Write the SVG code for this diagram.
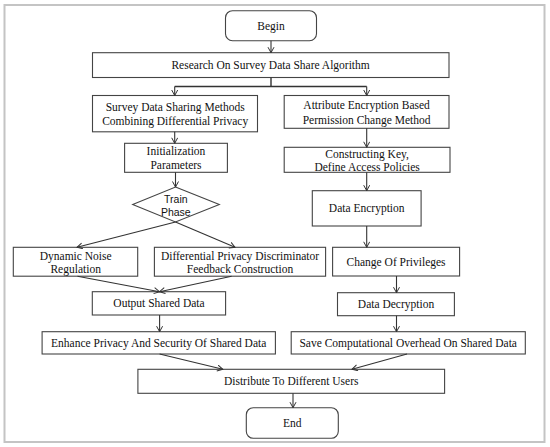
<svg xmlns="http://www.w3.org/2000/svg" width="550" height="447" viewBox="0 0 550 447">
<defs>
<marker id="arr" markerWidth="8" markerHeight="8" refX="6" refY="3.5" orient="auto" markerUnits="userSpaceOnUse">
<path d="M0.5,0.5 L6,3.5 L0.5,6.5" fill="none" stroke="#333" stroke-width="1"/>
</marker>
<style>
.box{fill:#fff;stroke:#444;stroke-width:1.1}
.t{font-family:"Liberation Serif","Times New Roman",serif;font-size:11.5px;fill:#111;text-anchor:middle}
.s{font-family:"Liberation Sans",Arial,sans-serif;font-size:10.5px;fill:#111;text-anchor:middle}
.c{fill:none;stroke:#333;stroke-width:1.4}
.a{fill:none;stroke:#333;stroke-width:1.1;marker-end:url(#arr)}
</style>
</defs>
<rect x="0" y="0" width="550" height="447" fill="#fff"/>
<rect x="4.5" y="5" width="540" height="437" fill="#fff" stroke="#c4c4c4" stroke-width="2"/>

<g id="begin"><rect class="box" x="225.5" y="10.7" width="91" height="30" rx="7"/><text class="t" x="271" y="29.5">Begin</text></g>
<g id="research"><rect class="box" x="92.5" y="52.7" width="356.5" height="24.8"/><text class="t" x="270.6" y="69">Research On Survey Data Share Algorithm</text></g>
<g id="survey"><rect class="box" x="92.5" y="95.5" width="165" height="36.3"/><text class="t" x="175.2" y="110.5">Survey Data Sharing Methods</text><text class="t" x="175.2" y="125">Combining Differential Privacy</text></g>
<g id="attribute"><rect class="box" x="284.2" y="95.5" width="164.8" height="32.8"/><text class="t" x="366.6" y="109">Attribute Encryption Based</text><text class="t" x="366.6" y="123.5">Permission Change Method</text></g>
<g id="init"><rect class="box" x="124.6" y="143.3" width="102.8" height="29"/><text class="t" x="176" y="155">Initialization</text><text class="t" x="176" y="169">Parameters</text></g>
<g id="construct"><rect class="box" x="284.2" y="147.3" width="165.8" height="25"/><text class="t" x="367.1" y="157.8">Constructing Key,</text><text class="t" x="367.1" y="170.8">Define Access Policies</text></g>
<g id="train"><polygon class="box" points="175.5,187 219.3,204.5 175.5,222 132.7,204.5"/><text class="s" x="175.8" y="202.5">Train</text><text class="s" x="175.8" y="216.3">Phase</text></g>
<g id="encrypt"><rect class="box" x="312.3" y="190.7" width="108.8" height="35.3"/><text class="t" x="366.7" y="212">Data Encryption</text></g>
<g id="noise"><rect class="box" x="13.3" y="247.3" width="124.4" height="28.9"/><text class="t" x="75.7" y="259.5">Dynamic Noise</text><text class="t" x="75.7" y="273">Regulation</text></g>
<g id="discrim"><rect class="box" x="154.4" y="247.3" width="171.2" height="28.9"/><text class="t" x="240" y="259.5">Differential Privacy Discriminator</text><text class="t" x="240" y="273">Feedback Construction</text></g>
<g id="privileges"><rect class="box" x="332.6" y="247.3" width="127" height="28.7"/><text class="t" x="396.1" y="265.5">Change Of Privileges</text></g>
<g id="output"><rect class="box" x="92.3" y="291.7" width="133.3" height="23.3"/><text class="t" x="159" y="307.3">Output Shared Data</text></g>
<g id="decrypt"><rect class="box" x="337.5" y="292.7" width="116.9" height="23"/><text class="t" x="396" y="308.3">Data Decryption</text></g>
<g id="enhance"><rect class="box" x="42.1" y="331.7" width="233.3" height="22.3"/><text class="t" x="158.7" y="346.8">Enhance Privacy And Security Of Shared Data</text></g>
<g id="save"><rect class="box" x="291.2" y="331.7" width="234.1" height="22.3"/><text class="t" x="408.2" y="346.8">Save Computational Overhead On Shared Data</text></g>
<g id="distribute"><rect class="box" x="137.9" y="369.3" width="306.7" height="24"/><text class="t" x="291.2" y="385.3">Distribute To Different Users</text></g>
<g id="end"><rect class="box" x="246.3" y="407.7" width="92" height="30.6" rx="7"/><text class="t" x="292.3" y="427">End</text></g>

<g id="connectors">
<line class="a" x1="271" y1="40.7" x2="271" y2="52.7"/>
<polyline class="c" points="271,77.5 271,86.5"/>
<line class="c" x1="174.7" y1="86.5" x2="366.7" y2="86.5"/>
<line class="a" x1="174.7" y1="86.5" x2="174.7" y2="95.5"/>
<line class="a" x1="366.7" y1="86.5" x2="366.7" y2="95.5"/>
<line class="a" x1="174.7" y1="131.8" x2="174.7" y2="143.3"/>
<line class="a" x1="366.7" y1="128.3" x2="366.7" y2="147.3"/>
<line class="a" x1="175.5" y1="172.3" x2="175.5" y2="187"/>
<line class="a" x1="366.7" y1="172.3" x2="366.7" y2="190.7"/>
<line class="a" x1="175.5" y1="222" x2="77" y2="247.3"/>
<line class="a" x1="175.5" y1="222" x2="235" y2="247.3"/>
<line class="a" x1="366.7" y1="226" x2="366.7" y2="247.3"/>
<line class="a" x1="77.5" y1="276.2" x2="159.5" y2="291.7"/>
<line class="a" x1="231.6" y1="276.2" x2="159.5" y2="291.7"/>
<line class="a" x1="396.5" y1="276" x2="396.5" y2="292.7"/>
<line class="a" x1="159.6" y1="315" x2="159.6" y2="331.7"/>
<line class="a" x1="396.5" y1="315.7" x2="396.5" y2="331.7"/>
<line class="a" x1="159.6" y1="354" x2="222.8" y2="369.3"/>
<line class="a" x1="407" y1="354" x2="352" y2="369.3"/>
<line class="a" x1="293" y1="393.3" x2="293" y2="407.7"/>
</g>
</svg>
